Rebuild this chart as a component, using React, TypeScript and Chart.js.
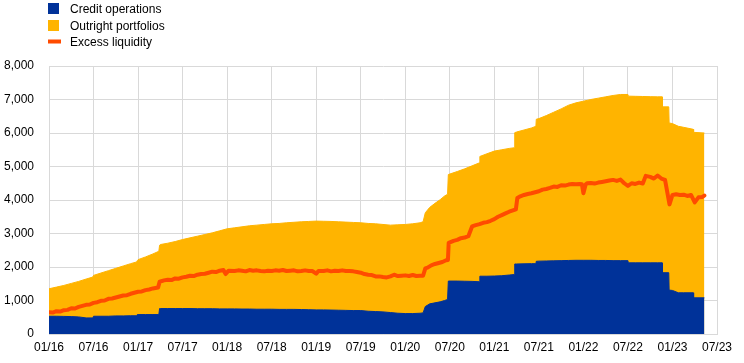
import React, { useEffect, useRef } from 'react';
import { Chart, registerables } from 'chart.js';

Chart.register(...registerables);

// Months since January 2016 for the stacked areas (repeated months mark steps)
const stackMonths = [
  0, 1, 2, 3, 4, 5, 5.9, 6, 7, 8, 9, 10, 11, 11.8, 11.9, 12, 13, 14, 14.8, 14.9,
  15, 16, 17, 18, 19, 20, 21, 22, 23, 24, 25, 26, 27, 28, 29, 30, 31, 32, 33, 34,
  35, 36, 37, 38, 39, 40, 41, 42, 43, 44, 45, 46, 47, 48, 49, 50, 50.4, 50.7, 51.3, 52,
  52.7, 53.3, 53.7, 53.8, 55, 56, 57, 58, 58.05, 59, 60, 61, 62, 62.7, 62.75, 63, 64, 65, 65.6, 65.65,
  66, 67, 68, 69, 70, 71, 72, 73, 74, 75, 76, 77, 78, 78.05, 79, 80, 81, 82, 82.6, 82.65,
  83.5, 83.55, 84, 84.8, 85.5, 86.8, 86.85, 88.3,
];

// EUR billions
const creditOperations = [
  530, 530, 525, 520, 510, 480, 480, 530, 530, 530, 540, 540, 545, 545, 580, 580, 580, 580, 580, 760,
  760, 760, 760, 760, 760, 755, 755, 755, 750, 750, 750, 745, 745, 740, 740, 740, 735, 735, 735, 730,
  725, 720, 720, 715, 710, 705, 700, 700, 680, 670, 660, 640, 620, 610, 610, 620, 630, 820, 900, 930,
  960, 1000, 1030, 1580, 1580, 1575, 1570, 1560, 1725, 1725, 1730, 1740, 1760, 1775, 2090, 2090, 2095, 2100, 2100, 2170,
  2175, 2180, 2185, 2190, 2195, 2200, 2200, 2200, 2195, 2195, 2190, 2190, 2190, 2125, 2125, 2125, 2125, 2125, 2125, 1830,
  1830, 1310, 1300, 1230, 1230, 1230, 1080, 1080,
];

const outrightPortfolios = [
  820, 870, 925, 990, 1060, 1160, 1220, 1220, 1290, 1360, 1420, 1490, 1555, 1605, 1610, 1640, 1720, 1810, 1890, 1890,
  1910, 1950, 2000, 2060, 2110, 2165, 2215, 2265, 2330, 2390, 2420, 2455, 2485, 2510, 2530, 2550, 2565, 2585, 2600, 2620,
  2635, 2650, 2645, 2645, 2640, 2635, 2630, 2620, 2620, 2620, 2610, 2610, 2640, 2660, 2680, 2700, 2720, 2800, 2880, 2970,
  3050, 3120, 3140, 3180, 3270, 3355, 3450, 3550, 3575, 3655, 3730, 3760, 3780, 3785, 3920, 3940, 3995, 4050, 4100, 4240,
  4255, 4340, 4435, 4530, 4635, 4700, 4750, 4800, 4845, 4885, 4930, 4960, 4960, 4975, 4970, 4965, 4960, 4955, 4955, 4950,
  4950, 4990, 4980, 4970, 4940, 4880, 4940, 4920,
];

// Months since January 2016 for excess liquidity
const excessMonths = [
  0, 0.5, 1, 1.5, 2, 2.5, 3, 3.5, 4, 4.5, 5, 5.5, 6, 6.5, 7, 7.5, 8, 8.5, 9, 9.5,
  10, 10.5, 11, 11.5, 12, 12.5, 13, 13.5, 14, 14.7, 14.9, 15.5, 16, 16.5, 17, 17.5, 18, 18.5, 19, 19.5,
  20, 20.5, 21, 21.5, 22, 22.5, 23, 23.5, 23.8, 24.2, 25, 25.5, 26, 26.5, 27, 27.5, 28, 28.5, 29, 29.5,
  30, 30.5, 31, 31.5, 32, 32.5, 33, 33.5, 34, 34.5, 35, 35.5, 36, 36.3, 37, 37.5, 38, 38.5, 39, 39.5,
  40, 40.5, 41, 41.5, 42, 42.5, 43, 43.5, 44, 44.5, 45, 45.5, 46, 46.5, 47, 47.5, 48, 48.5, 49, 49.5,
  50, 50.4, 50.7, 51, 51.5, 52, 52.5, 53, 53.5, 53.75, 53.85, 54.5, 55, 55.5, 56, 56.5, 57, 57.5, 58, 58.5,
  59, 59.5, 60, 60.5, 61, 61.5, 62, 62.5, 62.9, 63.1, 63.5, 64, 64.5, 65, 65.5, 66, 66.5, 67, 67.5, 68,
  68.5, 69, 69.5, 70, 70.5, 71, 71.5, 71.8, 72, 72.3, 72.5, 73, 73.5, 74, 74.5, 75, 75.5, 76, 76.5, 77,
  77.5, 78, 78.5, 79, 79.5, 80, 80.4, 81, 81.5, 82, 82.5, 83, 83.6, 84, 84.5, 85, 85.5, 86, 86.5, 87,
  87.5, 88, 88.3,
];

const excessLiquidity = [
  650, 640, 680, 670, 710, 720, 770, 760, 810, 840, 870, 880, 930, 950, 990, 1000, 1050, 1060, 1090, 1120,
  1150, 1160, 1200, 1230, 1260, 1270, 1310, 1330, 1360, 1390, 1560, 1600, 1620, 1610, 1660, 1650, 1690, 1710, 1740, 1730,
  1770, 1790, 1800, 1830, 1860, 1850, 1890, 1910, 1790, 1890, 1880, 1900, 1890, 1870, 1910, 1890, 1900, 1880, 1870, 1890,
  1880, 1900, 1890, 1910, 1880, 1890, 1900, 1870, 1880, 1900, 1880, 1880, 1800, 1880, 1880, 1900, 1870, 1890, 1880, 1900,
  1880, 1880, 1870, 1850, 1830, 1790, 1770, 1760, 1720, 1720, 1700, 1690, 1720, 1770, 1730, 1740, 1750, 1730, 1760, 1730,
  1740, 1740, 1960, 1980, 2050, 2090, 2120, 2150, 2200, 2210, 2720, 2780, 2810, 2860, 2880, 2920, 3210, 3250, 3280, 3320,
  3340, 3380, 3430, 3500, 3550, 3600, 3650, 3690, 3720, 4060, 4110, 4150, 4180, 4200, 4230, 4260, 4310, 4330, 4360, 4400,
  4390, 4440, 4430, 4460, 4480, 4470, 4480, 4470, 4200, 4460, 4500, 4510, 4490, 4520, 4540, 4560, 4580, 4600, 4570, 4610,
  4500, 4420, 4500, 4480, 4520, 4490, 4720, 4690, 4640, 4730, 4640, 4600, 3870, 4150, 4170, 4150, 4160, 4120, 4150, 3930,
  4080, 4090, 4130,
];

const xTickLabels = [
  '01/16', '07/16', '01/17', '07/17', '01/18', '07/18', '01/19', '07/19',
  '01/20', '07/20', '01/21', '07/21', '01/22', '07/22', '01/23', '07/23',
];

const BLUE = '#003299';
const YELLOW = '#ffb400';
const ORANGE = '#ff4b00';
const GRID = '#d9d9d9';
const FONT = "'Liberation Sans', Arial, sans-serif";

export default function App() {
  const ref = useRef<HTMLCanvasElement>(null);

  useEffect(() => {
    document.body.style.margin = '0';
    const canvas = ref.current;
    if (!canvas) return;

    const legendPlugin = {
      id: 'verticalLegend',
      afterDraw(chart: any) {
        const ctx = chart.ctx;
        const items = [
          { ds: 1, kind: 'box', y: 3, baseline: 13 },
          { ds: 2, kind: 'box', y: 20, baseline: 29.5 },
          { ds: 0, kind: 'line', y: 39.5, baseline: 46 },
        ];
        ctx.save();
        ctx.font = `12px ${FONT}`;
        ctx.textBaseline = 'alphabetic';
        ctx.textAlign = 'left';
        for (const it of items) {
          const ds = chart.data.datasets[it.ds];
          if (it.kind === 'box') {
            ctx.fillStyle = ds.backgroundColor;
            ctx.fillRect(48, it.y, 11, 11);
          } else {
            ctx.fillStyle = ds.borderColor;
            ctx.fillRect(48, it.y, 13, 4);
          }
          ctx.fillStyle = '#000';
          ctx.fillText(ds.label, 70, it.baseline);
        }
        ctx.restore();
      },
    };

    const chart = new Chart(canvas, {
      type: 'line',
      data: {
        datasets: [
          {
            label: 'Excess liquidity',
            data: excessMonths.map((m, i) => ({ x: m, y: excessLiquidity[i] })),
            borderColor: ORANGE,
            backgroundColor: ORANGE,
            borderWidth: 4,
            borderJoinStyle: 'round',
            borderCapStyle: 'round',
            pointRadius: 0,
            tension: 0,
            fill: false,
            order: 0,
          },
          {
            label: 'Credit operations',
            data: stackMonths.map((m, i) => ({ x: m, y: creditOperations[i] })),
            borderColor: BLUE,
            backgroundColor: BLUE,
            borderWidth: 1,
            pointRadius: 0,
            tension: 0,
            fill: 'origin',
            order: 1,
          },
          {
            label: 'Outright portfolios',
            data: stackMonths.map((m, i) => ({ x: m, y: creditOperations[i] + outrightPortfolios[i] })),
            borderColor: YELLOW,
            backgroundColor: YELLOW,
            borderWidth: 1,
            pointRadius: 0,
            tension: 0,
            fill: 'origin',
            order: 2,
          },
        ],
      } as any,
      options: {
        responsive: false,
        animation: false,
        devicePixelRatio: 1,
        events: [],
        layout: { padding: { top: 66, right: 27, left: 0, bottom: 0 } },
        plugins: {
          legend: { display: false },
          tooltip: { enabled: false },
        },
        scales: {
          x: {
            type: 'linear',
            min: 0,
            max: 90,
            afterBuildTicks: (scale: any) => {
              scale.ticks = xTickLabels.map((_, i) => ({ value: i * 6 }));
            },
            afterFit: (scale: any) => {
              scale.height = 29;
            },
            ticks: {
              autoSkip: false,
              maxRotation: 0,
              padding: 6,
              color: '#000',
              font: { family: FONT, size: 12 },
              callback: (v: any) => xTickLabels[Math.round(Number(v) / 6)],
            },
            grid: { color: GRID, drawTicks: false, lineWidth: 1 },
            border: { color: GRID },
          },
          y: {
            type: 'linear',
            min: 0,
            max: 8000,
            afterFit: (scale: any) => {
              scale.width = 49;
            },
            ticks: {
              stepSize: 1000,
              padding: 15,
              color: '#000',
              font: { family: FONT, size: 12 },
              callback: (v: any) => Number(v).toLocaleString('en-US'),
            },
            grid: { color: GRID, drawTicks: false, lineWidth: 1 },
            border: { color: GRID },
          },
        },
      } as any,
      plugins: [legendPlugin],
    });

    return () => chart.destroy();
  }, []);

  return (
    <div style={{ width: 744, height: 363, background: '#fff' }}>
      <canvas ref={ref} width={744} height={363} style={{ display: 'block', width: 744, height: 363 }} />
    </div>
  );
}
